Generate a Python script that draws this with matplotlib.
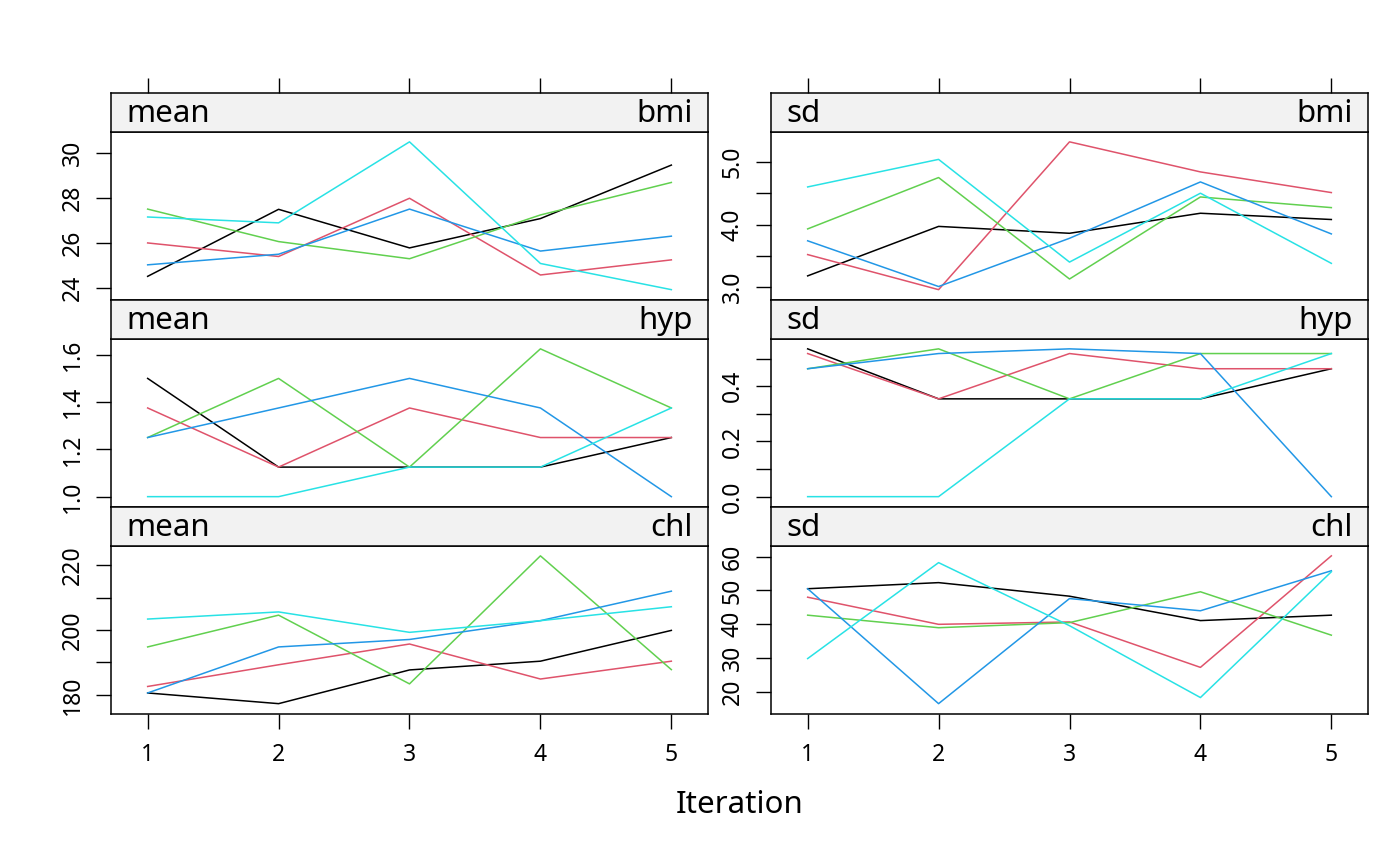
import matplotlib
matplotlib.use("Agg")
import matplotlib.pyplot as plt

plt.rcParams['font.family'] = ['Noto Sans', 'DejaVu Sans']

iterations = [1, 2, 3, 4, 5]
chain_colors = ["#000000", "#DF536B", "#61D04F", "#2297E6", "#28E2E5"]
variables = ["bmi", "hyp", "chl"]
stats = ["mean", "sd"]

# one row per chain (black, red, green, blue, cyan), one value per iteration
mean_bmi = [[24.53, 27.50, 25.79, 27.09, 29.46],
            [26.01, 25.41, 27.99, 24.59, 25.26],
            [27.51, 26.07, 25.31, 27.25, 28.69],
            [25.04, 25.51, 27.51, 25.65, 26.31],
            [27.16, 26.90, 30.49, 25.10, 23.94]]
sd_bmi = [[3.18, 3.97, 3.86, 4.18, 4.08],
          [3.52, 2.96, 5.32, 4.84, 4.51],
          [3.93, 4.75, 3.13, 4.44, 4.27],
          [3.74, 3.01, 3.78, 4.68, 3.85],
          [4.60, 5.04, 3.40, 4.50, 3.38]]
mean_hyp = [[1.500, 1.125, 1.125, 1.125, 1.250],
            [1.375, 1.125, 1.375, 1.250, 1.250],
            [1.250, 1.500, 1.125, 1.625, 1.375],
            [1.250, 1.375, 1.500, 1.375, 1.000],
            [1.000, 1.000, 1.125, 1.125, 1.375]]
sd_hyp = [[0.535, 0.354, 0.354, 0.354, 0.463],
          [0.518, 0.354, 0.518, 0.463, 0.463],
          [0.463, 0.535, 0.354, 0.518, 0.518],
          [0.463, 0.518, 0.535, 0.518, 0.000],
          [0.000, 0.000, 0.354, 0.354, 0.518]]
mean_chl = [[180.6, 177.3, 187.7, 190.4, 199.9],
            [182.6, 189.3, 195.7, 184.9, 190.4],
            [194.8, 204.6, 183.4, 222.9, 187.8],
            [180.6, 194.8, 197.1, 202.9, 212.0],
            [203.4, 205.6, 199.3, 202.9, 207.2]]
sd_chl = [[50.5, 52.3, 48.3, 41.1, 42.7],
          [48.0, 40.0, 40.7, 27.3, 60.2],
          [42.7, 39.0, 40.5, 49.6, 36.8],
          [50.5, 16.6, 47.6, 44.0, 55.8],
          [29.9, 58.2, 39.6, 18.4, 55.5]]

values = {("mean", "bmi"): mean_bmi, ("sd", "bmi"): sd_bmi,
          ("mean", "hyp"): mean_hyp, ("sd", "hyp"): sd_hyp,
          ("mean", "chl"): mean_chl, ("sd", "chl"): sd_chl}

y_ticks = {("mean", "bmi"): [24, 26, 28, 30],
           ("sd", "bmi"): [3.0, 3.5, 4.0, 4.5, 5.0],
           ("mean", "hyp"): [1.0, 1.2, 1.4, 1.6],
           ("sd", "hyp"): [0.0, 0.1, 0.2, 0.3, 0.4, 0.5],
           ("mean", "chl"): [180, 190, 200, 210, 220],
           ("sd", "chl"): [20, 30, 40, 50, 60]}
y_labels = {("mean", "bmi"): ["24", "26", "28", "30"],
            ("sd", "bmi"): ["3.0", "", "4.0", "", "5.0"],
            ("mean", "hyp"): ["1.0", "1.2", "1.4", "1.6"],
            ("sd", "hyp"): ["0.0", "", "0.2", "", "0.4", ""],
            ("mean", "chl"): ["180", "", "200", "", "220"],
            ("sd", "chl"): ["20", "30", "40", "50", "60"]}

W, H = 1400, 866
fig = plt.figure(figsize=(W / 100, H / 100), dpi=100)

col_x = [111, 771]
col_w = 597
strip_top = [93, 300, 507]
strip_h = 38.5
panel_h = 168.5


def frac(x0, y0, w, h):
    return [x0 / W, 1 - (y0 + h) / H, w / W, h / H]


for r, var in enumerate(variables):
    for c, st in enumerate(stats):
        key = (st, var)
        x0 = col_x[c]
        y0 = strip_top[r]

        ax = fig.add_axes(frac(x0, y0 + strip_h, col_w, panel_h))
        for chain, col in zip(values[key], chain_colors):
            ax.plot(iterations, chain, color=col, lw=1.1)
        ax.margins(x=0.07, y=0.07)
        ax.set_yticks(y_ticks[key])
        ax.set_yticklabels(y_labels[key], rotation=90, va="center")
        ax.set_xticks(iterations)
        ax.tick_params(direction="out", length=11, width=1.0,
                       labelsize=16.5, colors="black")
        ax.tick_params(axis="y", pad=8)
        ax.tick_params(axis="x", pad=10)
        if r == len(variables) - 1:
            ax.set_xticklabels([str(i) for i in iterations])
        else:
            ax.tick_params(axis="x", bottom=False, labelbottom=False)
        for s in ax.spines.values():
            s.set_linewidth(1.1)

        sx = fig.add_axes(frac(x0, y0, col_w, strip_h))
        sx.set_facecolor("#F2F2F2")
        sx.set_xlim(ax.get_xlim())
        sx.set_yticks([])
        if r == 0:
            sx.set_xticks(iterations)
            sx.xaxis.tick_top()
            sx.tick_params(axis="x", direction="out", length=11, width=1.0,
                           labeltop=False)
        else:
            sx.set_xticks([])
        for s in sx.spines.values():
            s.set_linewidth(1.1)
        sx.text(0.025, 0.45, st, transform=sx.transAxes, ha="left",
                va="center", fontsize=22.5)
        sx.text(0.975, 0.45, var, transform=sx.transAxes, ha="right",
                va="center", fontsize=22.5)

fig.text(739.5 / W, 1 - 805 / H, "Iteration", ha="center", va="center",
         fontsize=22.5)

fig.savefig("out.png", dpi=100)
